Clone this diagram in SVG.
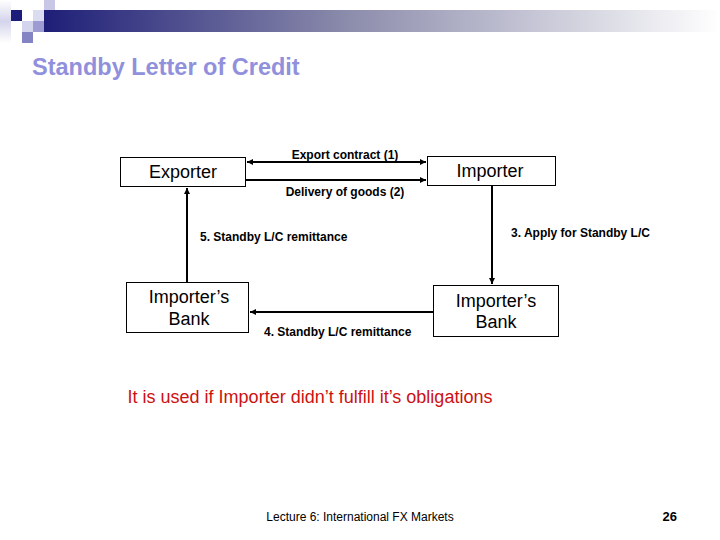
<svg xmlns="http://www.w3.org/2000/svg" width="720" height="540" viewBox="0 0 720 540">
<defs>
<linearGradient id="bar" x1="0" y1="0" x2="1" y2="0">
<stop offset="0" stop-color="#1e1e78"/>
<stop offset="0.45" stop-color="#8c8cac"/>
<stop offset="1" stop-color="#ffffff"/>
</linearGradient>
<linearGradient id="col" x1="0" y1="0" x2="0" y2="1">
<stop offset="0" stop-color="#ffffff"/>
<stop offset="0.5" stop-color="#d4d4ec"/>
<stop offset="1" stop-color="#ffffff"/>
</linearGradient>
<marker id="ah" viewBox="0 0 10 10" refX="10" refY="5" markerWidth="6" markerHeight="6" markerUnits="userSpaceOnUse" orient="auto-start-reverse">
<path d="M0,0 L10,5 L0,10 z" fill="#000"/>
</marker>
<style>
.box{fill:#fff;stroke:#000;stroke-width:1}
.nt{font-family:"Liberation Sans",Arial,sans-serif;font-size:18px;fill:#000;text-anchor:middle}
.lb{font-family:"Liberation Sans",Arial,sans-serif;font-size:12px;font-weight:bold;fill:#000}
.cn{stroke:#000;stroke-width:2;fill:none}
</style>
</defs>
<rect width="720" height="540" fill="#fff"/>
<g id="header">
<rect x="0" y="0" width="11" height="43" fill="url(#col)"/>
<rect x="11" y="10" width="11" height="11" fill="#1c1c7a"/>
<rect x="44" y="0" width="11" height="10" fill="#c8c8e6"/>
<rect x="33" y="10" width="11" height="11" fill="#dcdcf0"/>
<rect x="44" y="10" width="11" height="11" fill="#a8a8d6"/>
<rect x="22" y="21" width="11" height="11" fill="#d4d4ee"/>
<rect x="33" y="21" width="11" height="11" fill="#9c9cd2"/>
<rect x="22" y="32" width="11" height="11" fill="#8484c4"/>
<rect x="44" y="10" width="676" height="22" fill="url(#bar)"/>
</g>
<text x="32" y="75" font-family="'Liberation Sans',Arial,sans-serif" font-size="23.5" font-weight="bold" fill="#9090dc">Standby Letter of Credit</text>
<g id="connectors">
<line class="cn" x1="247" y1="162" x2="426" y2="162" marker-start="url(#ah)" marker-end="url(#ah)"/>
<line class="cn" x1="246" y1="180" x2="426" y2="180" marker-end="url(#ah)"/>
<line class="cn" x1="492" y1="186" x2="492" y2="284" marker-end="url(#ah)"/>
<line class="cn" x1="433" y1="312" x2="250" y2="312" marker-end="url(#ah)"/>
<line class="cn" x1="187" y1="282" x2="187" y2="188" marker-end="url(#ah)"/>
<text class="lb" x="345" y="159" text-anchor="middle">Export contract (1)</text>
<text class="lb" x="345" y="196" text-anchor="middle">Delivery of goods (2)</text>
<text class="lb" x="200" y="241">5. Standby L/C remittance</text>
<text class="lb" x="511" y="237">3. Apply for Standby L/C</text>
<text class="lb" x="264" y="336">4. Standby L/C remittance</text>
</g>
<g id="exporter">
<rect class="box" x="120.5" y="157.5" width="125" height="29"/>
<text class="nt" x="183" y="178">Exporter</text>
</g>
<g id="importer">
<rect class="box" x="427.5" y="156.5" width="128" height="29"/>
<text class="nt" x="490" y="177">Importer</text>
</g>
<g id="bank-left">
<rect class="box" x="126.5" y="282.5" width="122" height="50"/>
<text class="nt" x="189" y="303">Importer’s</text>
<text class="nt" x="189" y="325">Bank</text>
</g>
<g id="bank-right">
<rect class="box" x="433.5" y="285.5" width="125" height="51"/>
<text class="nt" x="496" y="307">Importer’s</text>
<text class="nt" x="496" y="328">Bank</text>
</g>
<text x="310" y="403" text-anchor="middle" font-family="'Liberation Sans',Arial,sans-serif" font-size="18" fill="#cc1111">It is used if Importer didn’t fulfill it’s obligations</text>
<text x="360" y="521" text-anchor="middle" font-family="'Liberation Sans',Arial,sans-serif" font-size="12" fill="#000">Lecture 6: International FX Markets</text>
<text x="677" y="521" text-anchor="end" font-family="'Liberation Sans',Arial,sans-serif" font-size="13" font-weight="bold" fill="#000">26</text>
</svg>
